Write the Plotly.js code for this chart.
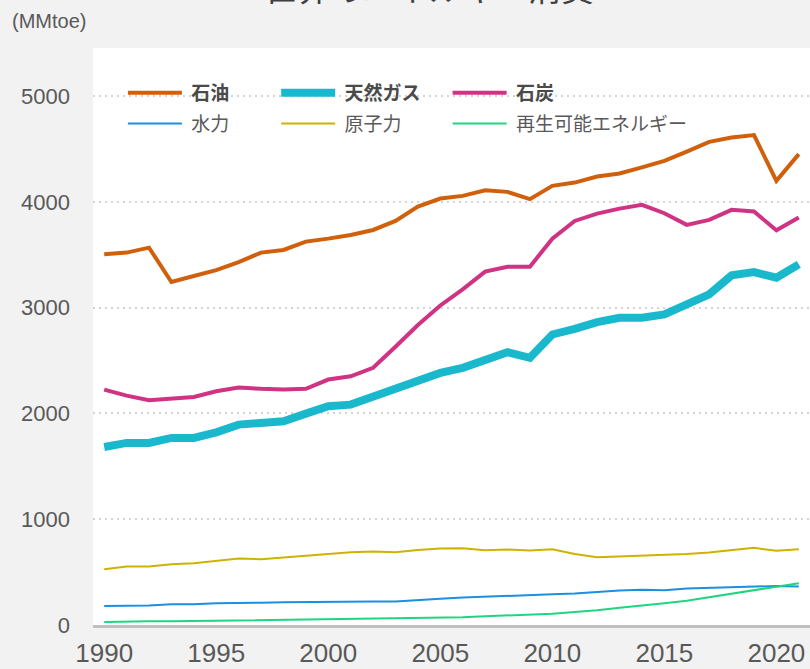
<!DOCTYPE html>
<html>
<head>
<meta charset="utf-8">
<script src="https://cdn.plot.ly/plotly-3.0.1.min.js"></script>
<style>html,body{margin:0;padding:0;background:#f2f2f2;}#chart{width:810px;height:669px;}</style>
</head>
<body>
<div id="chart"></div>
<script>
const years = [1990,1991,1992,1993,1994,1995,1996,1997,1998,1999,2000,2001,2002,2003,2004,2005,2006,2007,2008,2009,2010,2011,2012,2013,2014,2015,2016,2017,2018,2019,2020,2021];
const oil = [3504,3520,3567,3242,3299,3355,3431,3520,3545,3624,3652,3687,3734,3819,3955,4031,4056,4110,4094,4025,4151,4182,4239,4268,4325,4387,4475,4567,4608,4631,4198,4451];
const gas = [1683,1721,1721,1768,1768,1821,1894,1910,1925,1998,2067,2083,2156,2232,2320,2383,2431,2509,2579,2525,2746,2800,2863,2904,2904,2936,3030,3125,3305,3336,3283,3409];
const coal = [2225,2168,2124,2137,2156,2210,2244,2232,2225,2232,2320,2351,2431,2630,2835,3020,3172,3340,3387,3387,3652,3819,3889,3936,3971,3892,3782,3829,3924,3908,3731,3851];
const hydro = [180,183,185,196,196,205,211,211,215,218,221,218,221,221,237,249,259,265,275,278,290,297,312,325,334,328,344,350,360,360,369,363];
const nuclear = [527,552,552,575,584,609,628,622,638,656,672,688,694,688,710,723,726,707,713,704,717,672,641,647,653,663,672,685,704,729,701,717];
const renewables = [28,35,35,35,38,38,40,40,44,47,54,54,56,60,66,67,73,82,88,98,107,123,139,164,183,205,230,262,297,325,357,395];
const seriesNames = ['石油','天然ガス','石炭','水力','原子力','再生可能エネルギー'];
const xTicks = [1990,1995,2000,2005,2010,2015,2020];
const yTicks = [0,1000,2000,3000,4000,5000];
const titleText = '世界のエネルギー消費';
const unitText = '(MMtoe)';

const colors = ['#d1600c','#19b8cd','#d03383','#1b8fe0','#cdb300','#1fd680'];
const widths = [4,8,4,2,2,2];
const values = [oil,gas,coal,hydro,nuclear,renewables];
const legendIds = ['legend','legend2','legend3','legend4','legend5','legend6'];
const drawOrder = [3,4,5,2,0,1];

const traces = drawOrder.map(i => ({
  x: years, y: values[i], type: 'scatter', mode: 'lines',
  name: '\u00a0' + seriesNames[i],
  line: {color: colors[i], width: widths[i]},
  legend: legendIds[i],
  hoverinfo: 'x+y+name'
}));

const LFONT = '"Noto Sans CJK JP", "Noto Sans", sans-serif';
function leg(x, y, bold) {
  return {x: x, y: y, xanchor: 'left', yanchor: 'middle', orientation: 'v',
    bgcolor: 'rgba(0,0,0,0)', borderwidth: 0, itemwidth: 54,
    font: {family: LFONT, size: 19, color: bold ? '#4a4a4a' : '#595959', weight: bold ? 'bold' : 'normal'}};
}

const layout = {
  width: 810, height: 669,
  paper_bgcolor: '#f2f2f2', plot_bgcolor: '#ffffff',
  margin: {l: 93, r: 0, t: 48, b: 44, pad: 0},
  showlegend: true,
  legend: leg(0.0417, 0.922, true),
  legend2: leg(0.2555, 0.922, true),
  legend3: leg(0.4946, 0.922, true),
  legend4: leg(0.0417, 0.869, false),
  legend5: leg(0.2555, 0.869, false),
  legend6: leg(0.4946, 0.869, false),
  xaxis: {
    range: [1989.5, 2021.5], tickvals: xTicks, ticktext: xTicks.map(String),
    showgrid: false, zeroline: false, showline: true, linecolor: '#c0c0c0', linewidth: 3,
    ticks: '', ticklabelstandoff: 3,
    tickfont: {family: 'Liberation Sans, Arial, sans-serif', size: 26, color: '#595959'}
  },
  yaxis: {
    range: [0, 5454], tickvals: yTicks, ticktext: yTicks.map(String),
    showgrid: true, gridcolor: '#d4d4d4', gridwidth: 2, griddash: '2px,4px',
    zeroline: false, showline: false, ticks: '', ticklabelstandoff: 22,
    tickfont: {family: 'Liberation Sans, Arial, sans-serif', size: 22, color: '#595959'}
  },
  annotations: [
    {text: titleText, xref: 'paper', yref: 'paper', x: 0.4686, y: 1.1057, xanchor: 'center', yanchor: 'middle',
     showarrow: false, font: {family: LFONT, size: 33, color: '#404040'}},
    {text: unitText, xref: 'paper', yref: 'paper', x: -0.1158, y: 1.0468, xanchor: 'left', yanchor: 'middle',
     showarrow: false, font: {family: 'Liberation Sans, Arial, sans-serif', size: 20, color: '#595959'}}
  ]
};

Plotly.newPlot('chart', traces, layout, {displayModeBar: false});
</script>
</body>
</html>
